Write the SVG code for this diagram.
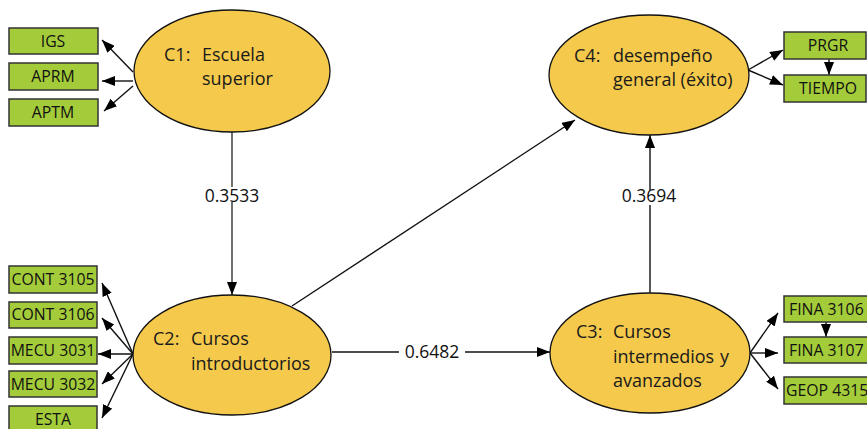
<svg xmlns="http://www.w3.org/2000/svg" width="867" height="429" viewBox="0 0 867 429">
  <style>
    .construct { fill: #F4C94C; stroke: #111; stroke-width: 1.3; }
    .indicator { fill: #A4CC3A; stroke: #333; stroke-width: 1.5; }
    .edge { fill: none; stroke: #111; stroke-width: 1.4; marker-end: url(#ah); }
    .nlabel { font-family: "Open Sans", "Liberation Sans", sans-serif; font-size: 18px; fill: #1a1a1a; }
    .blabel { font-family: "Open Sans", "Liberation Sans", sans-serif; font-size: 15.8px; fill: #111; text-anchor: middle; }
    .bleft { text-anchor: start; }
    .elabel { font-family: "Open Sans", "Liberation Sans", sans-serif; font-size: 17.5px; fill: #111; text-anchor: middle; }
  </style>
  <defs>
    <marker id="ah" viewBox="0 0 13 10" refX="13" refY="5" markerWidth="13" markerHeight="10" markerUnits="userSpaceOnUse" orient="auto">
      <path d="M0,0 L13,5 L0,10 z" fill="#000"/>
    </marker>
  </defs>
  <rect width="867" height="429" fill="#fff"/>

  <!-- connectors -->
  <g id="connectors">
    <path class="edge" d="M133,72 L102,40"/>
    <path class="edge" d="M133,81 L102,81"/>
    <path class="edge" d="M133,86 L104,111"/>
    <path class="edge" d="M748,70 L783,50"/>
    <path class="edge" d="M748,70 L783,85"/>
    <path class="edge" d="M829,59 L829,75"/>
    <path class="edge" d="M133,354 L102,283"/>
    <path class="edge" d="M133,354 L102,318"/>
    <path class="edge" d="M133,354 L98,354"/>
    <path class="edge" d="M133,354 L102,384"/>
    <path class="edge" d="M133,354 L102,418"/>
    <path class="edge" d="M750,353 L778,313"/>
    <path class="edge" d="M750,353 L778,353"/>
    <path class="edge" d="M750,353 L778,389"/>
    <path class="edge" d="M826,322 L826,337"/>
    <path class="edge" d="M232,132 L232,295" style="stroke:#333"/>
    <path class="edge" d="M332,352 L550,352"/>
    <path class="edge" d="M650,293 L650,135"/>
    <path class="edge" d="M292,306 L575,120"/>
    <!-- path coefficients -->
    <rect x="202" y="187" width="60" height="15" fill="#fff"/>
    <text class="elabel" x="232" y="202">0.3533</text>
    <rect x="399" y="343" width="66" height="17" fill="#fff"/>
    <text class="elabel" x="432" y="358">0.6482</text>
    <rect x="620" y="190" width="60" height="15" fill="#fff"/>
    <text class="elabel" x="649" y="202">0.3694</text>
  </g>

  <!-- constructs -->
  <g id="c1">
    <ellipse class="construct" cx="232" cy="71" rx="98" ry="61"/>
    <text class="nlabel" x="164" y="61">C1:</text>
    <text class="nlabel" x="202" y="61">Escuela</text>
    <text class="nlabel" x="202" y="85">superior</text>
  </g>
  <g id="c4">
    <ellipse class="construct" cx="649" cy="75" rx="100" ry="60"/>
    <text class="nlabel" x="574" y="62">C4:</text>
    <text class="nlabel" x="613" y="62">desempeño</text>
    <text class="nlabel" x="613" y="86">general (éxito)</text>
  </g>
  <g id="c2">
    <ellipse class="construct" cx="232" cy="355" rx="99" ry="60"/>
    <text class="nlabel" x="153" y="345">C2:</text>
    <text class="nlabel" x="191" y="345">Cursos</text>
    <text class="nlabel" x="191" y="370">introductorios</text>
  </g>
  <g id="c3">
    <ellipse class="construct" cx="650" cy="353" rx="100" ry="60"/>
    <text class="nlabel" x="576" y="338">C3:</text>
    <text class="nlabel" x="613" y="338">Cursos</text>
    <text class="nlabel" x="613" y="363">intermedios</text>
    <text class="nlabel" x="720" y="363">y</text>
    <text class="nlabel" x="613" y="387">avanzados</text>
  </g>

  <!-- indicators -->
  <g id="igs"><rect class="indicator" x="9" y="28" width="89" height="26"/><text class="blabel" x="53" y="47">IGS</text></g>
  <g id="aprm"><rect class="indicator" x="9" y="63" width="89" height="27"/><text class="blabel" x="53" y="82">APRM</text></g>
  <g id="aptm"><rect class="indicator" x="9" y="99" width="89" height="27"/><text class="blabel" x="53" y="118">APTM</text></g>

  <g id="cont3105"><rect class="indicator" x="9" y="266" width="88" height="27"/><text class="blabel" x="53" y="285">CONT 3105</text></g>
  <g id="cont3106"><rect class="indicator" x="9" y="302" width="88" height="26"/><text class="blabel" x="53" y="320">CONT 3106</text></g>
  <g id="mecu3031"><rect class="indicator" x="9" y="337" width="88" height="27"/><text class="blabel" x="53" y="356">MECU 3031</text></g>
  <g id="mecu3032"><rect class="indicator" x="9" y="371" width="88" height="26"/><text class="blabel" x="53" y="390">MECU 3032</text></g>
  <g id="esta"><rect class="indicator" x="9" y="406" width="88" height="27"/><text class="blabel" x="53" y="425">ESTA</text></g>

  <g id="prgr"><rect class="indicator" x="784" y="32" width="82" height="27"/><text class="blabel" x="828" y="51">PRGR</text></g>
  <g id="tiempo"><rect class="indicator" x="784" y="75" width="82" height="27"/><text class="blabel" x="828" y="94">TIEMPO</text></g>

  <g id="fina3106"><rect class="indicator" x="784" y="296" width="90" height="26"/><text class="blabel bleft" x="789" y="315">FINA 3106</text></g>
  <g id="fina3107"><rect class="indicator" x="784" y="337" width="90" height="26"/><text class="blabel bleft" x="789" y="356">FINA 3107</text></g>
  <g id="geop4315"><rect class="indicator" x="784" y="377" width="90" height="27"/><text class="blabel bleft" x="786" y="396">GEOP 4315</text></g>
</svg>
